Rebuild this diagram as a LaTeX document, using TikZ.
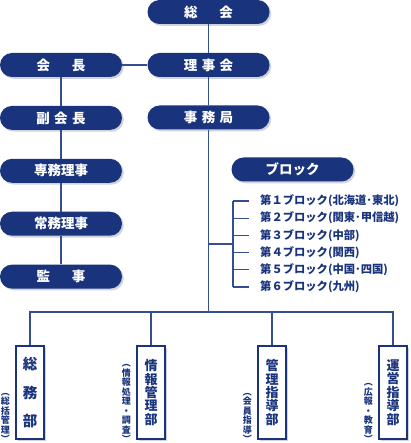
\documentclass[tikz,border=0pt]{standalone}
\usepackage{fontspec}
\setmainfont{Noto Sans CJK JP}
\usetikzlibrary{positioning, shadows, calc}
\definecolor{OrgNavy}{RGB}{25,52,125}
\definecolor{OrgLine}{RGB}{52,78,148}
\definecolor{OrgShade}{RGB}{208,211,218}
\newcommand{\kn}{\hspace{4.5pt}}
\newcommand{\tightstack}{\lineskiplimit-5pt\relax}

\begin{document}
\begin{tikzpicture}[x=1pt, y=-1pt]

\tikzset{
pill/.style={
fill=OrgNavy,
rounded corners=12pt,
minimum width=122pt,
minimum height=24pt,
inner sep=0pt,
text=white,
font=\fontsize{13.5}{14}\selectfont\bfseries,
drop shadow={shadow xshift=1.8pt, shadow yshift=-1.8pt, fill=OrgShade, opacity=1}
},
dept/.style={
draw=OrgNavy,
line width=1.4pt,
fill=white,
minimum width=28pt,
minimum height=93pt,
inner sep=0pt,
align=center,
text=OrgNavy,
drop shadow={shadow xshift=1.5pt, shadow yshift=-1.5pt, fill=OrgShade, opacity=1}
},
sub/.style={
align=center,
inner sep=0pt,
text=OrgNavy,
anchor=south,
font=\fontsize{9}{9.5}\selectfont\bfseries\tightstack
},
blk/.style={
anchor=west,
inner sep=0pt,
text=OrgNavy,
font=\fontsize{11.3}{12}\selectfont\bfseries
},
link/.style={
draw=OrgLine,
line width=1.3pt
}
}

\useasboundingbox (0,0) rectangle (410,443);

% top row
\node[pill] (soukai) at (208.5,12) {総\hspace{22pt}会};
\node[pill] (riji) at (208.5,65) {理\kn 事\kn 会};
\node[pill] (jimu) at (208.5,117.5) {事\kn 務\kn 局};

% left column
\node[pill] (kaicho) at (61,65) {会\hspace{22pt}長};
\node[pill, below=28.5pt of kaicho] (fuku) {副\kn 会\kn 長};
\node[pill, below=28.5pt of fuku] (senmu) {専務理事};
\node[pill, below=28.5pt of senmu] (joumu) {常務理事};
\node[pill, below=28.5pt of joumu] (kanji) {監\hspace{22pt}事};

\draw[link] (soukai) -- (riji);
\draw[link] (riji) -- (jimu);
\draw[link] (kaicho) -- (riji);
\draw[link] (kaicho) -- (fuku);
\draw[link] (fuku) -- (senmu);
\draw[link] (senmu) -- (joumu);
\draw[link] (joumu) -- (kanji);

% blocks
\node[pill] (block) at (292.5,169.5) {ブロック};
\node[blk] (bk1) at (260,201) {第１ブロック(北海道･東北)};
\node[blk] (bk2) at (260,218.2) {第２ブロック(関東･甲信越)};
\node[blk] (bk3) at (260,235.4) {第３ブロック(中部)};
\node[blk] (bk4) at (260,252.6) {第４ブロック(関西)};
\node[blk] (bk5) at (260,269.8) {第５ブロック(中国･四国)};
\node[blk] (bk6) at (260,287) {第６ブロック(九州)};

\coordinate (bus) at (208.5,312);
\coordinate (tap) at (208.5,244);
\coordinate (brk) at (233,244);

\draw[link] (jimu) -- (bus);
\draw[link] (tap) -- (brk);
\draw[link] (brk |- bk1) -- (brk |- bk6);
\draw[link] (brk |- bk1) -- ($(bk1.west)+(-11,0)$);
\draw[link] (brk |- bk2) -- ($(bk2.west)+(-11,0)$);
\draw[link] (brk |- bk3) -- ($(bk3.west)+(-11,0)$);
\draw[link] (brk |- bk4) -- ($(bk4.west)+(-11,0)$);
\draw[link] (brk |- bk5) -- ($(bk5.west)+(-11,0)$);
\draw[link] (brk |- bk6) -- ($(bk6.west)+(-11,0)$);

% departments
\node[dept, font=\fontsize{14.5}{28.5}\selectfont\bfseries] (soumu) at (30,392.5) {総\\務\\部};
\node[dept, font=\fontsize{13}{13.4}\selectfont\bfseries\tightstack] (jouhou) at (151,392.5) {情\\報\\管\\理\\部};
\node[dept, font=\fontsize{13}{13.4}\selectfont\bfseries\tightstack] (kanri) at (272,392.5) {管\\理\\指\\導\\部};
\node[dept, font=\fontsize{13}{13.4}\selectfont\bfseries\tightstack] (unei) at (393,392.5) {運\\営\\指\\導\\部};

\node[sub] (soumusub) at ($(soumu.west |- 0,443)+(-10,0)$) {︵\\総\\括\\管\\理\\︶};
\node[sub] (jouhousub) at ($(jouhou.west |- 0,443)+(-10,0)$) {︵\\情\\報\\処\\理\\・\\調\\査\\︶};
\node[sub] (kanrisub) at ($(kanri.west |- 0,443)+(-10,0)$) {︵\\会\\員\\指\\導\\︶};
\node[sub] (uneisub) at ($(unei.west |- 0,443)+(-10,0)$) {︵\\広\\報\\・\\教\\育\\︶};

\draw[link] (soumu) |- (bus);
\draw[link] (jouhou) |- (bus);
\draw[link] (kanri) |- (bus);
\draw[link] (unei) |- (bus);

\end{tikzpicture}
\end{document}
